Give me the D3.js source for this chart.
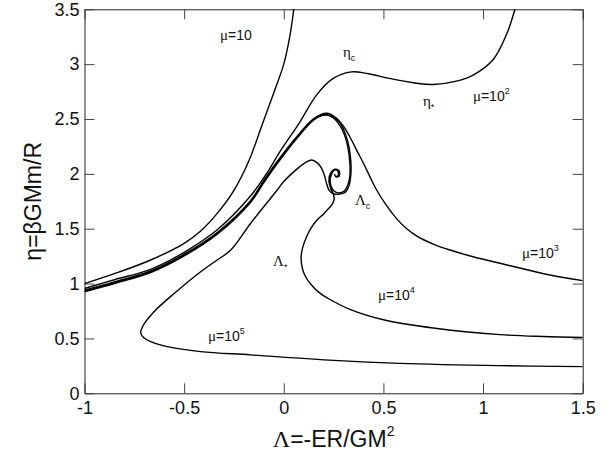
<!DOCTYPE html>
<html>
<head>
<meta charset="utf-8">
<script src="https://cdn.jsdelivr.net/npm/d3@7"></script>
<style>
  html, body { margin: 0; padding: 0; background: #fff; }
  svg { display: block; font-family: "Liberation Sans", Arial, sans-serif; }
</style>
</head>
<body>
<svg id="chart" width="613" height="457"></svg>
<script>
// caloric curves eta(Lambda), one array per mu value: [Lambda, eta]
const mu10 = [[-1,1.0],[-0.85,1.09],[-0.668,1.215],[-0.5,1.367],[-0.417,1.48],[-0.334,1.64],
  [-0.25,1.85],[-0.175,2.12],[-0.104,2.47],[-0.05,2.74],[0.0,3.0],[0.03,3.25],[0.05,3.5],[0.058,3.62]];

const mu100 = [[-1,0.955],[-0.85,1.035],[-0.668,1.13],[-0.5,1.285],[-0.334,1.49],[-0.166,1.8],
  [-0.08,2.02],[-0.02,2.2],[0.08,2.47],[0.165,2.72],[0.248,2.87],[0.34,2.93],[0.42,2.915],[0.53,2.87],
  [0.667,2.826],[0.75,2.815],[0.867,2.845],[0.95,2.9],[1.05,3.04],[1.12,3.28],[1.16,3.5],[1.175,3.6]];

const mu1000 = [[-1,0.94],[-0.85,1.015],[-0.668,1.115],[-0.5,1.268],[-0.334,1.466],[-0.166,1.758],
  [-0.1,1.94],[-0.03,2.12],[0.065,2.338],[0.148,2.5],[0.215,2.552],[0.265,2.507],[0.305,2.42],[0.34,2.309],
  [0.37,2.2],[0.4,2.097],[0.432,1.975],[0.466,1.853],[0.516,1.71],[0.567,1.59],[0.617,1.5],
  [0.67,1.43],[0.75,1.36],[0.834,1.306],[0.95,1.245],[1.085,1.185],[1.2,1.135],[1.336,1.078],[1.5,1.027]];

const mu1e4 = [[-1,0.932],[-0.85,1.008],[-0.668,1.108],[-0.5,1.26],[-0.334,1.458],[-0.166,1.75],
  [-0.1,1.93],[-0.03,2.11],[0.065,2.33],[0.148,2.493],[0.205,2.54],[0.245,2.515],[0.28,2.445],[0.305,2.355],
  [0.322,2.24],[0.331,2.11],[0.332,1.99],[0.322,1.9],[0.305,1.845],[0.28,1.826],[0.258,1.835],
  [0.242,1.868],[0.233,1.928],[0.238,1.99],[0.256,2.035],[0.272,2.024],[0.273,1.985],[0.26,1.978],
  [0.255,1.995],[0.262,1.972],[0.278,1.98],[0.277,2.03],[0.256,2.042],[0.232,1.995],[0.227,1.928],
  [0.237,1.86],[0.25,1.81],[0.252,1.76],[0.242,1.72],[0.225,1.685],[0.2,1.635],[0.165,1.575],
  [0.135,1.5],[0.113,1.42],[0.095,1.33],[0.087,1.245],[0.093,1.14],[0.11,1.06],[0.14,0.985],
  [0.18,0.915],[0.232,0.855],[0.332,0.765],[0.5,0.67],[0.75,0.595],[1.085,0.535],[1.3,0.518],[1.5,0.51]];

const mu1e5 = [[1.5,0.243],[1.085,0.252],[0.583,0.273],[0.252,0.30],[-0.166,0.35],[-0.417,0.38],
  [-0.585,0.425],[-0.668,0.47],[-0.705,0.51],[-0.718,0.55],[-0.705,0.62],[-0.651,0.744],
  [-0.55,0.91],[-0.417,1.108],[-0.334,1.215],[-0.266,1.306],[-0.166,1.55],[-0.033,1.853],
  [0.0,1.93],[0.07,2.05],[0.11,2.105],[0.14,2.127],[0.168,2.1],[0.19,2.05],[0.205,1.98],
  [0.215,1.91],[0.228,1.85],[0.25,1.818],[0.28,1.815],[0.308,1.83],[0.325,1.88],[0.336,1.98],
  [0.337,2.1],[0.328,2.24],[0.31,2.36],[0.285,2.455],[0.25,2.52],[0.205,2.535],[0.148,2.488],
  [0.065,2.322],[-0.03,2.1],[-0.1,1.92],[-0.166,1.742],[-0.334,1.45],[-0.5,1.252],[-0.668,1.1],
  [-0.85,1.0],[-1,0.925]];

const series = [mu10, mu100, mu1000, mu1e4, mu1e5];

const xTicks = [-1, -0.5, 0, 0.5, 1, 1.5];
const yTicks = [0, 0.5, 1, 1.5, 2, 2.5, 3, 3.5];

// annotations: [Lambda, eta, greek, rest, script, "sup"|"sub"]
const notes = [
  [-0.32, 3.22, "\u03bc", "=10", "", "sup"],
  [0.297, 3.066, "\u03b7", "", "c", "sub"],
  [0.698, 2.62, "\u03b7", "", "*", "sub"],
  [0.949, 2.665, "\u03bc", "=10", "2", "sup"],
  [0.357, 1.717, "\u039b", "", "c", "sub"],
  [-0.054, 1.16, "\u039b", "", "*", "sub"],
  [1.195, 1.234, "\u03bc", "=10", "3", "sup"],
  [0.473, 0.85, "\u03bc", "=10", "4", "sup"],
  [-0.38, 0.477, "\u03bc", "=10", "5", "sup"]
];

const svg = d3.select("#chart");
const width = +svg.attr("width");
const height = +svg.attr("height");
const margin = { top: 9.3, right: 30.3, bottom: 63.7, left: 84.5 };

const x = d3.scaleLinear().domain([-1, 1.5]).range([margin.left, width - margin.right]);
const y = d3.scaleLinear().domain([0, 3.5]).range([height - margin.bottom, margin.top]);

svg.append("defs").append("clipPath").attr("id", "plot")
  .append("rect")
  .attr("x", x(-1)).attr("y", y(3.5))
  .attr("width", x(1.5) - x(-1)).attr("height", y(0) - y(3.5));

// axes, ticks pointing inward on all four sides
const fmt = d => String(d);
const axes = [
  [d3.axisBottom(x).tickValues(xTicks).tickFormat(fmt), `translate(0,${y(0)})`],
  [d3.axisTop(x).tickValues(xTicks).tickFormat(""), `translate(0,${y(3.5)})`],
  [d3.axisLeft(y).tickValues(yTicks).tickFormat(fmt), `translate(${x(-1)},0)`],
  [d3.axisRight(y).tickValues(yTicks).tickFormat(""), `translate(${x(1.5)},0)`]
];
axes.forEach(([ax, tr], i) => {
  const g = svg.append("g")
    .attr("transform", tr)
    .call(ax.tickSizeInner(-10).tickSizeOuter(0).tickPadding(i === 2 ? 5 : 8));
  g.select(".domain").attr("stroke", "#222");
  g.selectAll(".tick line").attr("stroke", "#444");
  g.selectAll("text").attr("font-size", 18).attr("fill", "#111")
    .attr("font-family", "Liberation Sans, Arial, sans-serif");
});

// curves
const line = d3.line()
  .x(d => x(d[0]))
  .y(d => y(d[1]))
  .curve(d3.curveCatmullRom.alpha(0.5));

svg.append("g").attr("clip-path", "url(#plot)")
  .selectAll("path")
  .data(series)
  .enter()
  .append("path")
  .attr("d", line)
  .attr("fill", "none")
  .attr("stroke", "#000")
  .attr("stroke-width", 1.4)
  .attr("stroke-linejoin", "round");

// curve labels
notes.forEach(n => {
  const t = svg.append("text")
    .attr("x", x(n[0])).attr("y", y(n[1]))
    .attr("font-size", 14).attr("fill", "#111");
  t.append("tspan").attr("font-family", "Liberation Serif, serif").attr("font-size", 15).text(n[2]);
  if (n[3]) t.append("tspan").text(n[3]);
  if (n[4]) {
    t.append("tspan")
      .attr("font-size", 9)
      .attr("dy", n[5] === "sup" ? -7 : 4)
      .text(n[4]);
  }
});

// axis titles
const xt = svg.append("text")
  .attr("x", (x(-1) + x(1.5)) / 2).attr("y", 447)
  .attr("text-anchor", "middle")
  .attr("font-size", 23).attr("fill", "#111");
xt.append("tspan").attr("font-family", "Liberation Serif, serif").attr("font-size", 24).text("\u039b");
xt.append("tspan").text("=-ER/GM");
xt.append("tspan").attr("font-size", 14).attr("dy", -11).text("2");

svg.append("text")
  .attr("transform", `translate(41,${(y(0) + y(3.5)) / 2}) rotate(-90)`)
  .attr("text-anchor", "middle")
  .attr("font-size", 23).attr("fill", "#111")
  .text("\u03b7=\u03b2GMm/R");
</script>
</body>
</html>
